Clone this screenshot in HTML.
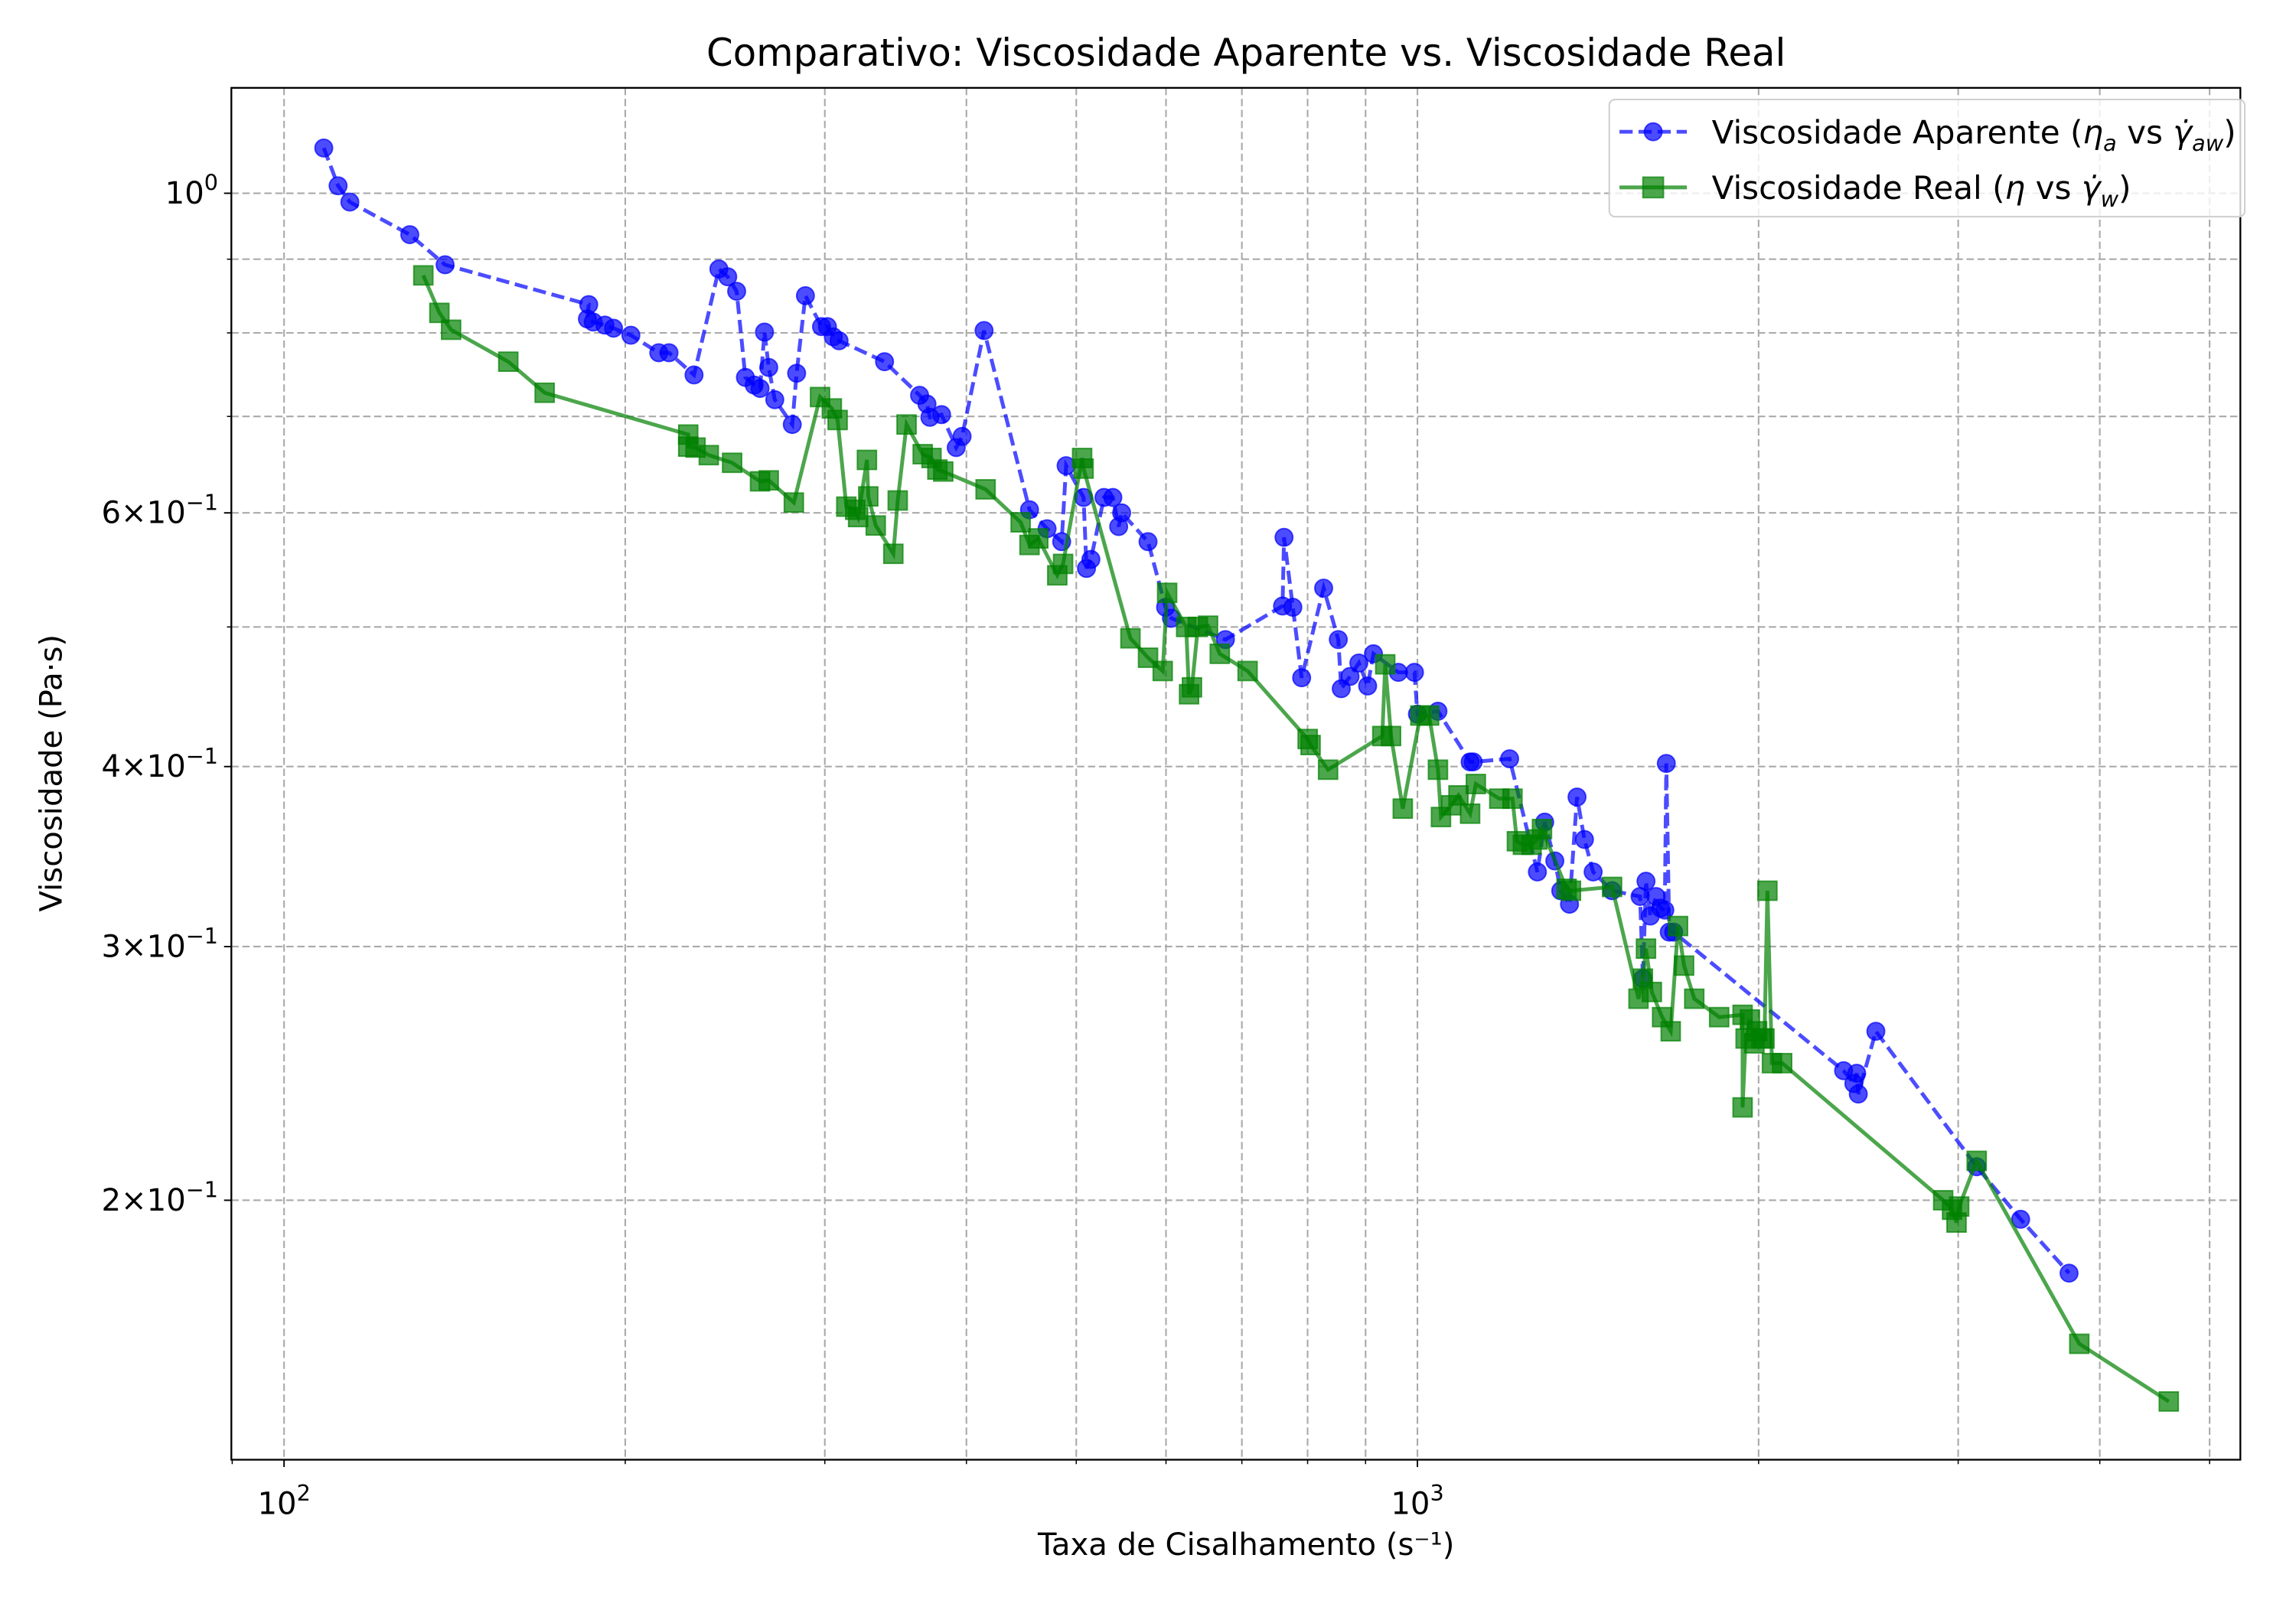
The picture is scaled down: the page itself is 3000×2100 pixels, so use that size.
<!DOCTYPE html>
<html><head><meta charset="utf-8"><style>
html,body{margin:0;padding:0;background:#fff;}
svg{display:block;font-family:"DejaVu Sans","Liberation Sans",sans-serif;}
</style></head><body>
<svg id="chart" width="3000" height="2100" viewBox="0 0 1568 1097.6" xmlns="http://www.w3.org/2000/svg">
<rect x="0" y="0" width="1568" height="1097.6" fill="#fff"/>
<g id="grid"></g>
<g id="series"></g>
<rect x="158" y="60" width="1372" height="937" fill="none" stroke="#000" stroke-width="1.2"/>
<g id="axes"></g>
<text x="851" y="45" font-size="26" text-anchor="middle">Comparativo: Viscosidade Aparente vs. Viscosidade Real</text>
<text x="851" y="1062" font-size="21" text-anchor="middle">Taxa de Cisalhamento (s⁻¹)</text>
<text transform="translate(42,528) rotate(-90)" font-size="21" text-anchor="middle">Viscosidade (Pa·s)</text>
<g>
<rect x="1099" y="68" width="434" height="80" rx="4" fill="#fff" fill-opacity="0.8" stroke="#ccc" stroke-width="1"/>
<g>
<line x1="1106" y1="90" x2="1152" y2="90" stroke="#0000ff" stroke-opacity="0.7" stroke-width="2.6" stroke-dasharray="9,4"/>
<circle cx="1129" cy="90" r="6" fill="#0000ff" fill-opacity="0.7" stroke="#0000ff" stroke-opacity="0.7"/>
<text x="1169" y="98" font-size="22">Viscosidade Aparente (<tspan font-style="italic">η</tspan><tspan font-style="italic" font-size="15" dy="5">a</tspan><tspan dy="-5"> vs </tspan><tspan font-style="italic">γ̇</tspan><tspan font-style="italic" font-size="15" dy="5">aw</tspan><tspan dy="-5">)</tspan></text>
</g>
<g>
<line x1="1106" y1="128" x2="1152" y2="128" stroke="#008000" stroke-opacity="0.7" stroke-width="2.6"/>
<rect x="1122" y="121" width="14" height="14" fill="#008000" fill-opacity="0.7" stroke="#008000" stroke-opacity="0.7"/>
<text x="1169" y="136" font-size="22">Viscosidade Real (<tspan font-style="italic">η</tspan> vs <tspan font-style="italic">γ̇</tspan><tspan font-style="italic" font-size="15" dy="5">w</tspan><tspan dy="-5">)</tspan></text>
</g>
</g>
</svg>
<script>
const apparentRate=[108.4,111.6,114.3,129.1,138.7,185.7,185.2,187.4,191.9,195.3,202.3,214.1,218.6,230.0,241.9,246.3,250.8,255.3,259.9,263.0,265.4,267.7,271.0,280.8,283.3,288.4,298.0,301.6,305.2,308.8,338.7,363.7,369.2,371.4,380.3,391.8,396.5,414.6,454.7,471.2,485.4,489.8,507.5,510.5,515.1,529.0,538.6,545.0,548.3,578.5,599.5,606.7,677.0,760.3,762.6,776.4,790.4,826.5,851.5,856.6,872.1,887.8,903.8,914.5,962,994,1000,1042.6,1113,1120,1206,1276,1295,1322,1338,1362,1383,1404,1429,1485,1572,1581,1591,1605,1624,1639,1653,1658,1668,1683,2377,2427,2441,2449,2538,3115,3406,3758];
const apparentVisc=[1.075,1.012,0.986,0.936,0.892,0.837,0.818,0.814,0.810,0.806,0.797,0.775,0.775,0.748,0.886,0.875,0.855,0.745,0.736,0.732,0.801,0.757,0.719,0.691,0.750,0.849,0.808,0.808,0.795,0.790,0.764,0.724,0.714,0.699,0.702,0.666,0.678,0.803,0.603,0.585,0.573,0.647,0.615,0.549,0.557,0.615,0.615,0.587,0.600,0.573,0.516,0.507,0.490,0.517,0.577,0.516,0.461,0.532,0.490,0.453,0.462,0.472,0.455,0.479,0.465,0.465,0.435,0.437,0.403,0.403,0.405,0.338,0.366,0.344,0.328,0.321,0.381,0.356,0.338,0.328,0.325,0.285,0.333,0.315,0.325,0.319,0.318,0.402,0.307,0.307,0.246,0.241,0.245,0.237,0.262,0.211,0.194,0.178];
const realRate=[132.7,137.1,140.4,157.7,169.8,227.3,227.3,230.7,237.0,248.5,263.0,267.7,281.7,297.1,304.3,307.9,313.4,319.1,321.0,326.8,327.7,332.7,344.8,347.9,354.2,366.0,372.6,377.1,381.6,415.9,446.6,454.7,462.9,481.1,486.8,506.0,507.5,558.2,578.5,596.0,601.4,625.1,628.8,632.5,640.1,653.5,669.3,708.2,800.1,804.9,834.0,931.1,936.7,947.8,970.7,1006,1024,1042.6,1049,1071,1087,1113,1126,1181,1213,1224,1239,1261,1276,1288,1354,1366,1485,1567,1581,1591,1610,1644,1673,1698,1719,1755,1846,1936,1936,1948,1965,1983,1994,2012,2024,2036,2055,2098,2910,2963,2990,3006,3115,3837,4602];
const realVisc=[0.877,0.826,0.804,0.764,0.727,0.680,0.667,0.666,0.658,0.650,0.631,0.632,0.610,0.722,0.709,0.696,0.606,0.603,0.596,0.653,0.616,0.588,0.562,0.612,0.691,0.659,0.655,0.643,0.641,0.623,0.591,0.570,0.576,0.543,0.553,0.655,0.644,0.491,0.476,0.466,0.528,0.500,0.449,0.454,0.500,0.501,0.479,0.466,0.418,0.414,0.398,0.420,0.471,0.420,0.374,0.434,0.434,0.398,0.369,0.376,0.382,0.371,0.389,0.380,0.380,0.355,0.353,0.353,0.356,0.362,0.329,0.328,0.330,0.276,0.285,0.299,0.279,0.268,0.262,0.310,0.291,0.276,0.268,0.269,0.232,0.259,0.267,0.257,0.262,0.259,0.259,0.328,0.249,0.249,0.200,0.197,0.193,0.198,0.213,0.159,0.145];
const xMajorTicks=[100,1000];
const xMinorTicks=[200,300,400,500,600,700,800,900,2000,3000,4000,5000];
const yGridTicks=[0.2,0.3,0.4,0.5,0.6,0.7,0.8,0.9,1.0];
const yLabelTicks=[[1.0,"10","0"],[0.6,"6×10","−1"],[0.4,"4×10","−1"],[0.3,"3×10","−1"],[0.2,"2×10","−1"]];

const NS="http://www.w3.org/2000/svg";
const X=v=>194+774*(Math.log10(v)-2);
const Y=v=>132-984*Math.log10(v);
function mk(tag,attrs,parent){const e=document.createElementNS(NS,tag);for(const k in attrs)e.setAttribute(k,attrs[k]);parent.appendChild(e);return e;}
const grid=document.getElementById('grid'),axes=document.getElementById('axes'),series=document.getElementById('series');
xMajorTicks.concat(xMinorTicks).forEach(v=>{
  const g=mk('line',{x1:X(v),x2:X(v),y1:60,y2:997,stroke:'#aaaaaa','stroke-width':1.1,'stroke-dasharray':'5,2.5'},grid);
  
  
});
yGridTicks.forEach(v=>{
  const g=mk('line',{x1:158,x2:1530,y1:Y(v),y2:Y(v),stroke:'#aaaaaa','stroke-width':1.1,'stroke-dasharray':'5,2.5'},grid);
  
  
});
xMajorTicks.forEach(v=>{
  mk('line',{x1:X(v),x2:X(v),y1:997,y2:1002,stroke:'#000','stroke-width':1},axes);
  const t=mk('text',{x:X(v),y:1034,'font-size':21,'text-anchor':'middle'},axes);
  
  
  t.innerHTML='10<tspan font-size="15" dy="-9">'+Math.round(Math.log10(v))+'</tspan>';
});
xMinorTicks.concat([90]).forEach(v=>{mk('line',{x1:X(v),x2:X(v),y1:997,y2:1000,stroke:'#000','stroke-width':0.8},axes);});
yGridTicks.forEach(v=>{mk('line',{x1:155,x2:158,y1:Y(v),y2:Y(v),stroke:'#000','stroke-width':0.8},axes);});
yLabelTicks.forEach(a=>{
  mk('line',{x1:153,x2:158,y1:Y(a[0]),y2:Y(a[0]),stroke:'#000','stroke-width':1},axes);
  const t=mk('text',{x:149,y:Y(a[0])+7,'font-size':21,'text-anchor':'end'},axes);
  
  
  t.innerHTML=a[1]+'<tspan font-size="15" dy="-9">'+a[2]+'</tspan>';
});
const ap=apparentRate.map((r,i)=>X(r)+','+Y(apparentVisc[i])).join(' ');
const l1=mk('polyline',{points:ap,fill:'none',stroke:'#0000ff','stroke-opacity':0.7,'stroke-width':2.6,'stroke-dasharray':'9,4'},series);


apparentRate.forEach((r,i)=>{
  const c=mk('circle',{cx:X(r),cy:Y(apparentVisc[i]),r:6,fill:'#0000ff','fill-opacity':0.7,stroke:'#0000ff','stroke-opacity':0.7,'stroke-width':1},series);
  
  
});
const rp=realRate.map((r,i)=>X(r)+','+Y(realVisc[i])).join(' ');
const l2=mk('polyline',{points:rp,fill:'none',stroke:'#008000','stroke-opacity':0.7,'stroke-width':2.6},series);


realRate.forEach((r,i)=>{
  const s=mk('rect',{x:X(r)-6.5,y:Y(realVisc[i])-6.5,width:13,height:13,fill:'#008000','fill-opacity':0.7,stroke:'#008000','stroke-opacity':0.7,'stroke-width':1},series);
  
  
});
</script>
</body></html>
